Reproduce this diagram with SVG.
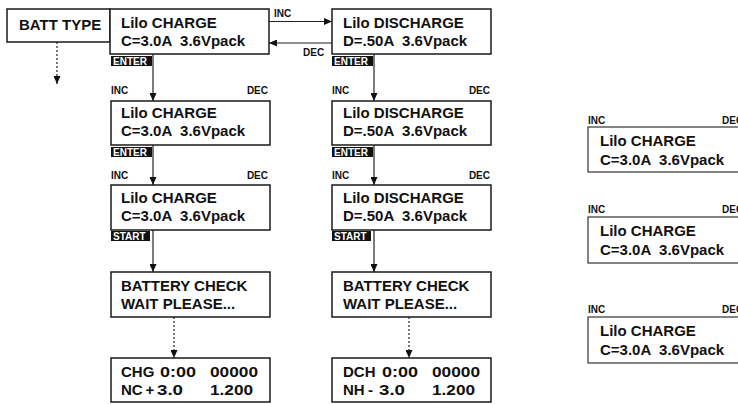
<svg xmlns="http://www.w3.org/2000/svg" width="738" height="404" viewBox="0 0 738 404">
<style>
.box{fill:#fff;stroke:#1a1a1a;stroke-width:1.5}
.sbox{fill:#fff;stroke:#333;stroke-width:1.2}
.t{font-family:"Liberation Sans",Arial,sans-serif;font-weight:bold;font-size:15px;fill:#111}
.s{font-family:"Liberation Sans",Arial,sans-serif;font-weight:bold;font-size:10px;fill:#111}
.tag{fill:#111}
.tagt{font-family:"Liberation Sans",Arial,sans-serif;font-weight:bold;font-size:10px;fill:#fff}
.ln{stroke:#222;stroke-width:1.2;fill:none}
.dot{stroke:#222;stroke-width:1.2;fill:none;stroke-dasharray:2,2}
</style>
<defs>
<marker id="ah" markerUnits="userSpaceOnUse" markerWidth="8" markerHeight="7" refX="8" refY="3.5" orient="auto">
<path d="M0,0 L8,3.5 L0,7 z" fill="#111"/>
</marker>
</defs>
<g id="connectors">
<line class="dot" x1="57" y1="42" x2="57" y2="84" marker-end="url(#ah)"/>
<line class="ln" x1="269" y1="21.5" x2="332" y2="21.5" marker-end="url(#ah)"/>
<line class="ln" x1="332" y1="43" x2="269" y2="43" marker-end="url(#ah)"/>
<text class="s" x="274" y="17">INC</text>
<text class="s" x="303" y="56">DEC</text>
<line class="ln" x1="153" y1="54" x2="153" y2="101" marker-end="url(#ah)"/>
<line class="ln" x1="153" y1="145" x2="153" y2="185" marker-end="url(#ah)"/>
<line class="ln" x1="153" y1="230" x2="153" y2="272" marker-end="url(#ah)"/>
<line class="dot" x1="174" y1="317" x2="174" y2="358" marker-end="url(#ah)"/>
<line class="ln" x1="374" y1="54" x2="374" y2="101" marker-end="url(#ah)"/>
<line class="ln" x1="374" y1="145" x2="374" y2="185" marker-end="url(#ah)"/>
<line class="ln" x1="374" y1="230" x2="374" y2="272" marker-end="url(#ah)"/>
<line class="dot" x1="409" y1="317" x2="409" y2="358" marker-end="url(#ah)"/>
</g>
<g id="batt-type">
<rect class="box" x="7" y="9" width="103" height="33"/>
<text class="t" x="19" y="30">BATT TYPE</text>
</g>
<g id="charge-1">
<rect class="box" x="110" y="9" width="159" height="45"/>
<text class="t" x="121" y="28">Lilo CHARGE</text>
<text class="t" x="121" y="46" xml:space="preserve">C=3.0A  3.6Vpack</text>
<rect class="tag" x="111" y="56" width="41" height="10"/>
<text class="tagt" x="113" y="65">ENTER</text>
</g>
<g id="discharge-1">
<rect class="box" x="332" y="9" width="159" height="45"/>
<text class="t" x="343" y="28">Lilo DISCHARGE</text>
<text class="t" x="343" y="46" xml:space="preserve">D=.50A  3.6Vpack</text>
<rect class="tag" x="332" y="56" width="41" height="10"/>
<text class="tagt" x="334" y="65">ENTER</text>
</g>
<g id="charge-2">
<text class="s" x="111" y="94">INC</text>
<text class="s" x="268" y="94" text-anchor="end">DEC</text>
<rect class="box" x="111" y="101" width="159" height="44"/>
<text class="t" x="121" y="118">Lilo CHARGE</text>
<text class="t" x="121" y="136" xml:space="preserve">C=3.0A  3.6Vpack</text>
<rect class="tag" x="111" y="147" width="41" height="10"/>
<text class="tagt" x="113" y="156">ENTER</text>
</g>
<g id="discharge-2">
<text class="s" x="332" y="94">INC</text>
<text class="s" x="490" y="94" text-anchor="end">DEC</text>
<rect class="box" x="332" y="101" width="159" height="44"/>
<text class="t" x="343" y="118">Lilo DISCHARGE</text>
<text class="t" x="343" y="136" xml:space="preserve">D=.50A  3.6Vpack</text>
<rect class="tag" x="332" y="147" width="41" height="10"/>
<text class="tagt" x="334" y="156">ENTER</text>
</g>
<g id="charge-3">
<text class="s" x="111" y="179">INC</text>
<text class="s" x="268" y="179" text-anchor="end">DEC</text>
<rect class="box" x="111" y="185" width="159" height="45"/>
<text class="t" x="121" y="203">Lilo CHARGE</text>
<text class="t" x="121" y="221" xml:space="preserve">C=3.0A  3.6Vpack</text>
<rect class="tag" x="111" y="231" width="39" height="10"/>
<text class="tagt" x="113" y="240">START</text>
</g>
<g id="discharge-3">
<text class="s" x="332" y="179">INC</text>
<text class="s" x="490" y="179" text-anchor="end">DEC</text>
<rect class="box" x="332" y="185" width="159" height="45"/>
<text class="t" x="343" y="203">Lilo DISCHARGE</text>
<text class="t" x="343" y="221" xml:space="preserve">D=.50A  3.6Vpack</text>
<rect class="tag" x="332" y="231" width="39" height="10"/>
<text class="tagt" x="334" y="240">START</text>
</g>
<g id="check-charge">
<rect class="box" x="111" y="272" width="159" height="45"/>
<text class="t" x="121" y="291">BATTERY CHECK</text>
<text class="t" x="121" y="309">WAIT PLEASE...</text>
</g>
<g id="check-discharge">
<rect class="box" x="332" y="272" width="159" height="45"/>
<text class="t" x="343" y="291">BATTERY CHECK</text>
<text class="t" x="343" y="309">WAIT PLEASE...</text>
</g>
<g id="status-charge">
<rect class="box" x="111" y="358" width="159" height="44"/>
<text class="t" x="121" y="377">CHG</text>
<text class="t" x="160" y="377" textLength="36" lengthAdjust="spacingAndGlyphs">0:00</text>
<text class="t" x="210" y="377" textLength="48" lengthAdjust="spacingAndGlyphs">00000</text>
<text class="t" x="121" y="395">NC</text>
<text class="t" x="145.5" y="395">+</text>
<text class="t" x="157" y="395" textLength="26" lengthAdjust="spacingAndGlyphs">3.0</text>
<text class="t" x="210" y="395" textLength="43" lengthAdjust="spacingAndGlyphs">1.200</text>
</g>
<g id="status-discharge">
<rect class="box" x="332" y="358" width="159" height="44"/>
<text class="t" x="343" y="377">DCH</text>
<text class="t" x="382" y="377" textLength="36" lengthAdjust="spacingAndGlyphs">0:00</text>
<text class="t" x="432" y="377" textLength="48" lengthAdjust="spacingAndGlyphs">00000</text>
<text class="t" x="343" y="395">NH</text>
<text class="t" x="368" y="395">-</text>
<text class="t" x="379" y="395" textLength="26" lengthAdjust="spacingAndGlyphs">3.0</text>
<text class="t" x="432" y="395" textLength="43" lengthAdjust="spacingAndGlyphs">1.200</text>
</g>
<g id="side-1">
<text class="s" x="588" y="124">INC</text>
<text class="s" x="722" y="124">DEC</text>
<rect class="sbox" x="588" y="127" width="160" height="45"/>
<text class="t" x="600" y="146">Lilo CHARGE</text>
<text class="t" x="600" y="165" xml:space="preserve">C=3.0A  3.6Vpack</text>
</g>
<g id="side-2">
<text class="s" x="588" y="213">INC</text>
<text class="s" x="722" y="213">DEC</text>
<rect class="sbox" x="588" y="217" width="160" height="46"/>
<text class="t" x="600" y="236">Lilo CHARGE</text>
<text class="t" x="600" y="255" xml:space="preserve">C=3.0A  3.6Vpack</text>
</g>
<g id="side-3">
<text class="s" x="588" y="313">INC</text>
<text class="s" x="722" y="313">DEC</text>
<rect class="sbox" x="588" y="317" width="160" height="46"/>
<text class="t" x="600" y="336">Lilo CHARGE</text>
<text class="t" x="600" y="355" xml:space="preserve">C=3.0A  3.6Vpack</text>
</g>
</svg>
